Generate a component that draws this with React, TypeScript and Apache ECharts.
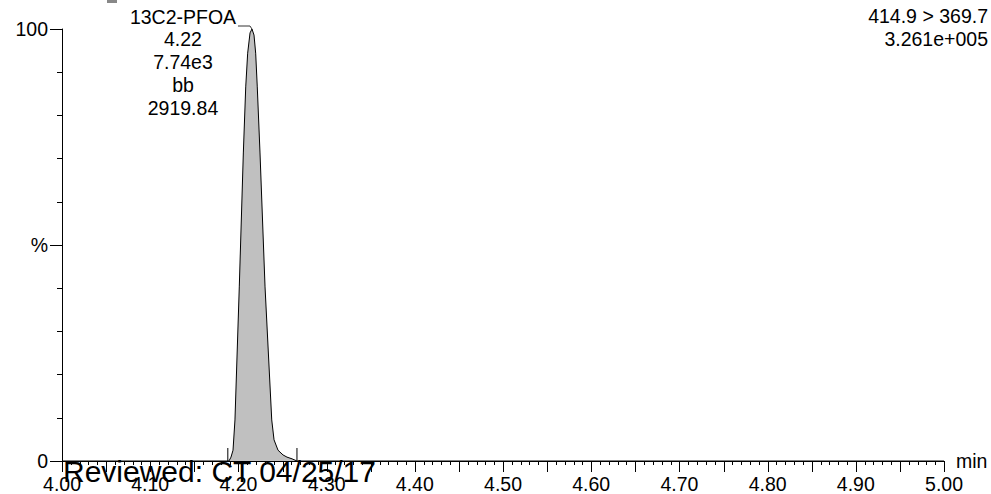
import React, { useEffect, useRef } from "react";
import * as echarts from "echarts";

// Chromatogram trace (retention time in min, relative intensity %)
const times: number[] = [4.0, 4.1893, 4.1916, 4.1939, 4.1961, 4.201, 4.2056, 4.2083, 4.2105, 4.2132, 4.2154, 4.2177, 4.2196, 4.2214, 4.2245, 4.2302, 4.2378, 4.2404, 4.2449, 4.2506, 4.2551, 4.2608, 4.2664, 5.0];
const intensity: number[] = [0, 0, 0.9, 2.5, 9.5, 40.3, 71.3, 86.6, 94.4, 99.1, 100, 98.6, 94.4, 86.6, 71.3, 40.3, 9.5, 4.9, 2.5, 1.4, 0.9, 0.5, 0, 0];

const peakApex: [number, number] = [4.2154, 100];
const peakBounds: number[] = [4.188, 4.2664];
const peakLabelLines: string[] = ["13C2-PFOA", "4.22", "7.74e3", "bb", "2919.84"];
const channelLines: string[] = ["414.9 > 369.7", "3.261e+005"];
const reviewText = "Reviewed: CT 04/25/17";
const xTickLabelsFmt = (v: number) => v.toFixed(2);
const yTickLabels: Record<number, string> = { 0: "0", 50: "%", 100: "100" };
// x-axis tick marks in hundredths of a minute from 4.00 (every 0.01, long every 0.05)
const xTickHundredths: number[] = Array.from({ length: 101 }, (_, i) => i);

const FONT = "'Liberation Sans', Arial, Helvetica, sans-serif";
const FS = 19.5;

export default function App() {
  const ref = useRef<HTMLDivElement>(null);
  useEffect(() => {
    if (!ref.current) return;
    const chart = echarts.init(ref.current, null, { renderer: "svg" });
    const data = times.map((t, i) => [t, intensity[i]]);
    const tickData = xTickHundredths.map((h) => [4 + h / 100, 0, h % 5 === 0 ? 11 : 4]);
    chart.setOption({
      animation: false,
      backgroundColor: "#ffffff",
      textStyle: { fontFamily: FONT },
      grid: { left: 62, right: 47, top: 29, bottom: 33, containLabel: false, outerBoundsMode: "none" },
      xAxis: {
        type: "value",
        min: 4,
        max: 5,
        interval: 0.1,
        name: "min",
        nameLocation: "end",
        nameGap: 12,
        nameTextStyle: { color: "#000", fontSize: FS, fontFamily: FONT, verticalAlign: "middle", align: "left" },
        axisLine: { show: true, onZero: false, lineStyle: { color: "#000", width: 1 } },
        axisTick: { show: false },
        axisLabel: { color: "#000", fontSize: FS, fontFamily: FONT, margin: 13, formatter: xTickLabelsFmt, showMinLabel: true, showMaxLabel: true },
        splitLine: { show: false },
      },
      yAxis: {
        type: "value",
        min: 0,
        max: 100,
        interval: 50,
        axisLine: { show: true, lineStyle: { color: "#000", width: 1 } },
        axisTick: { show: true, length: 12, lineStyle: { color: "#000" } },
        minorTick: { show: true, splitNumber: 5, length: 5, lineStyle: { color: "#000" } },
        axisLabel: { color: "#000", fontSize: FS, fontFamily: FONT, margin: 14, formatter: (v: number) => yTickLabels[v] ?? "" },
        splitLine: { show: false },
      },
      series: [
        {
          type: "line",
          data,
          showSymbol: false,
          symbol: "none",
          smooth: false,
          lineStyle: { color: "#000", width: 1 },
          areaStyle: { color: "#c0c0c0", opacity: 1 },
          z: 1,
        },
        {
          type: "custom",
          data: tickData,
          clip: false,
          silent: true,
          z: 5,
          renderItem: (params: any, api: any) => {
            const p = api.coord([api.value(0), 0]);
            const len = api.value(2);
            const x = Math.round(p[0]) + 0.5;
            return {
              type: "line",
              shape: { x1: x, y1: p[1], x2: x, y2: p[1] + len },
              style: { stroke: "#000", lineWidth: 1 },
            };
          },
        },
      ],
    });

    const apex = chart.convertToPixel({ gridIndex: 0 }, peakApex) as number[];
    const b0 = chart.convertToPixel({ gridIndex: 0 }, [peakBounds[0], 0]) as number[];
    const b1 = chart.convertToPixel({ gridIndex: 0 }, [peakBounds[1], 0]) as number[];

    chart.setOption({
      graphic: [
        {
          type: "polyline",
          shape: { points: [[apex[0] - 14, apex[1] - 3], [apex[0] - 2, apex[1] - 3], [apex[0], apex[1]]] },
          style: { stroke: "#333", lineWidth: 1, fill: "none" },
          z: 10,
        },
        { type: "line", shape: { x1: b0[0], y1: b0[1] - 13, x2: b0[0], y2: b0[1] }, style: { stroke: "#000", lineWidth: 1 }, z: 10 },
        { type: "line", shape: { x1: b1[0], y1: b1[1] - 13, x2: b1[0], y2: b1[1] }, style: { stroke: "#000", lineWidth: 1 }, z: 10 },
        ...peakLabelLines.map((s, i) => ({
          type: "text",
          x: apex[0] - 69,
          y: 16.5 + i * 22.8,
          z: 10,
          style: { text: s, fill: "#000", font: `${FS}px ${FONT}`, textAlign: "center", textVerticalAlign: "middle", align: "center", verticalAlign: "middle" },
        })),
        ...channelLines.map((s, i) => ({
          type: "text",
          x: 988,
          y: 15.5 + i * 23.5,
          z: 10,
          style: { text: s, fill: "#000", font: `${FS}px ${FONT}`, textAlign: "right", textVerticalAlign: "middle", align: "right", verticalAlign: "middle" },
        })),
        { type: "rect", shape: { x: 107, y: 0, width: 10, height: 3 }, style: { fill: "#888" }, z: 10 },
        {
          type: "text",
          x: 63,
          y: 471,
          z: 20,
          style: { text: reviewText, fill: "#000", font: `30px ${FONT}`, textAlign: "left", textVerticalAlign: "middle", align: "left", verticalAlign: "middle" },
        },
      ],
    });

    return () => chart.dispose();
  }, []);
  return (
    <div
      ref={ref}
      style={{ position: "absolute", left: 0, top: 0, width: 991, height: 494, background: "#fff" }}
    />
  );
}
